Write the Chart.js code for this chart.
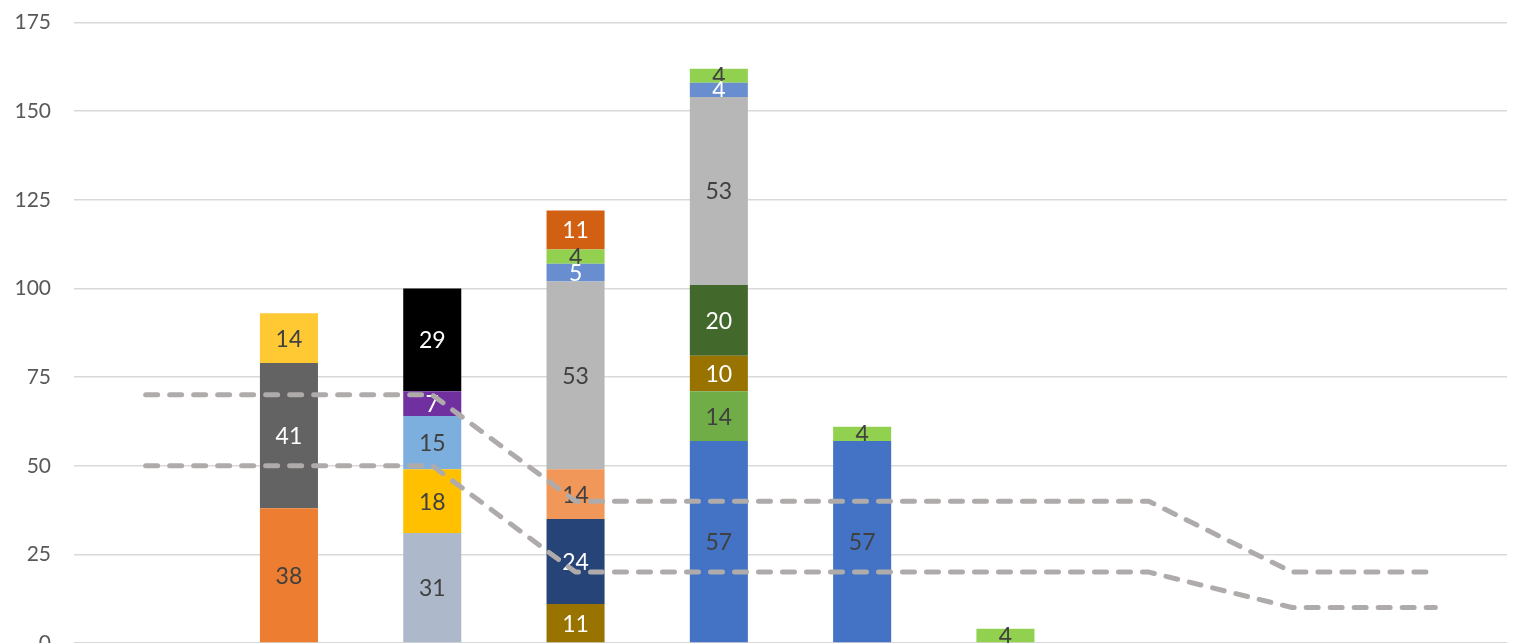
<!DOCTYPE html>
<html>
<head>
<meta charset="utf-8">
<script src="https://cdn.jsdelivr.net/npm/chart.js@4"></script>
<style>
  html, body { margin: 0; padding: 0; background: #fff; overflow: hidden; }
  #wrap { position: relative; width: 1528px; height: 693px; margin-top: -13px; }
</style>
</head>
<body>
<div id="wrap"><canvas id="chart"></canvas></div>
<script>
  // categories along the (cut-off) x axis
  const CATEGORIES = ['1', '2', '3', '4', '5', '6', '7', '8', '9', '10'];
  const Y_TICKS = [0, 25, 50, 75, 100, 125, 150, 175];

  // stacked segments, listed bottom to top
  const orangeSeg     = [null, 38, null, null, null, null, null, null, null, null];
  const darkGraySeg   = [null, 41, null, null, null, null, null, null, null, null];
  const goldSeg       = [null, 14, null, null, null, null, null, null, null, null];
  const blueGraySeg   = [null, null, 31, null, null, null, null, null, null, null];
  const yellowSeg     = [null, null, 18, null, null, null, null, null, null, null];
  const lightBlueSeg  = [null, null, 15, null, null, null, null, null, null, null];
  const purpleSeg     = [null, null, 7, null, null, null, null, null, null, null];
  const blackSeg      = [null, null, 29, null, null, null, null, null, null, null];
  const blueSeg       = [null, null, null, null, 57, 57, null, null, null, null];
  const greenSeg      = [null, null, null, null, 14, null, null, null, null, null];
  const darkGoldSeg   = [null, null, null, 11, 10, null, null, null, null, null];
  const navySeg       = [null, null, null, 24, null, null, null, null, null, null];
  const lightOrangeSeg= [null, null, null, 14, null, null, null, null, null, null];
  const darkGreenSeg  = [null, null, null, null, 20, null, null, null, null, null];
  const graySeg       = [null, null, null, 53, 53, null, null, null, null, null];
  const smallBlueSeg  = [null, null, null, 5, 4, null, null, null, null, null];
  const lightGreenSeg = [null, null, null, 4, 4, 4, 4, null, null, null];
  const darkOrangeSeg = [null, null, null, 11, null, null, null, null, null, null];

  // dashed threshold lines
  const upperLine = [70, 70, 70, 40, 40, 40, 40, 40, 20, 20];
  const lowerLine = [50, 50, 50, 20, 20, 20, 20, 20, 10, 10];

  const DARK_TEXT = '#404040';
  const LIGHT_TEXT = '#ffffff';

  const BAR_SERIES = [
    { data: orangeSeg,      color: '#ED7D31', text: DARK_TEXT },
    { data: darkGraySeg,    color: '#636363', text: LIGHT_TEXT },
    { data: goldSeg,        color: '#FFC934', text: DARK_TEXT },
    { data: blueGraySeg,    color: '#ADB9CA', text: DARK_TEXT },
    { data: yellowSeg,      color: '#FFC000', text: DARK_TEXT },
    { data: lightBlueSeg,   color: '#7CAFDD', text: DARK_TEXT },
    { data: purpleSeg,      color: '#7030A0', text: LIGHT_TEXT },
    { data: blackSeg,       color: '#000000', text: LIGHT_TEXT },
    { data: blueSeg,        color: '#4472C4', text: DARK_TEXT },
    { data: greenSeg,       color: '#70AD47', text: DARK_TEXT },
    { data: darkGoldSeg,    color: '#997300', text: LIGHT_TEXT },
    { data: navySeg,        color: '#264478', text: LIGHT_TEXT },
    { data: lightOrangeSeg, color: '#F1975A', text: DARK_TEXT },
    { data: darkGreenSeg,   color: '#43682B', text: LIGHT_TEXT },
    { data: graySeg,        color: '#B7B7B7', text: DARK_TEXT },
    { data: smallBlueSeg,   color: '#698ED0', text: LIGHT_TEXT },
    { data: lightGreenSeg,  color: '#92D050', text: DARK_TEXT },
    { data: darkOrangeSeg,  color: '#D26012', text: LIGHT_TEXT },
  ];

  const LINE_COLOR = '#AFABAB';

  // draws each segment's value in its middle
  const segmentLabels = {
    id: 'segmentLabels',
    afterDatasetDraw: function (chart, args) {
      var ds = chart.data.datasets[args.index];
      if (ds.type !== 'bar') return;
      var ctx = chart.ctx;
      ctx.save();
      ctx.font = '23px Lato, "Open Sans", sans-serif';
      ctx.textAlign = 'center';
      ctx.textBaseline = 'middle';
      ctx.fillStyle = ds.labelColor;
      args.meta.data.forEach(function (bar, i) {
        var v = ds.data[i];
        if (v === null || v === undefined) return;
        var p = bar.getProps(['x', 'y', 'base'], true);
        ctx.fillText(String(v), p.x, (p.y + p.base) / 2 + 1);
      });
      ctx.restore();
    }
  };

  var datasets = [upperLine, lowerLine].map(function (vals, i) {
    return {
      type: 'line',
      data: vals,
      stack: 'line' + i,
      borderColor: LINE_COLOR,
      borderWidth: 5,
      borderDash: [12, 12],
      borderCapStyle: 'round',
      borderJoinStyle: 'round',
      pointRadius: 0,
      fill: false,
      tension: 0,
      order: 0,
    };
  });

  BAR_SERIES.forEach(function (s) {
    datasets.push({
      type: 'bar',
      data: s.data,
      backgroundColor: s.color,
      borderWidth: 0,
      labelColor: s.text,
      stack: 'main',
      order: 1,
      categoryPercentage: 1,
      barPercentage: 0.405,
    });
  });

  new Chart(document.getElementById('chart'), {
    data: { labels: CATEGORIES, datasets: datasets },
    plugins: [segmentLabels],
    options: {
      responsive: true,
      maintainAspectRatio: false,
      animation: false,
      layout: { padding: { left: 16, right: 21, top: 8, bottom: 37 } },
      plugins: { legend: { display: false }, tooltip: { enabled: false } },
      scales: {
        x: {
          display: false,
          stacked: true,
        },
        y: {
          stacked: true,
          min: 0,
          max: 175,
          afterBuildTicks: function (axis) {
            axis.ticks = Y_TICKS.map(function (v) { return { value: v }; });
          },
          afterFit: function (axis) { axis.width = 58; },
          border: { display: false },
          grid: { color: '#D9D9D9', lineWidth: 1.5, drawTicks: false },
          ticks: {
            padding: 23,
            color: '#595959',
            font: { size: 21, family: 'Lato, "Open Sans", sans-serif' },
          },
        },
      },
    },
  });
</script>
</body>
</html>
